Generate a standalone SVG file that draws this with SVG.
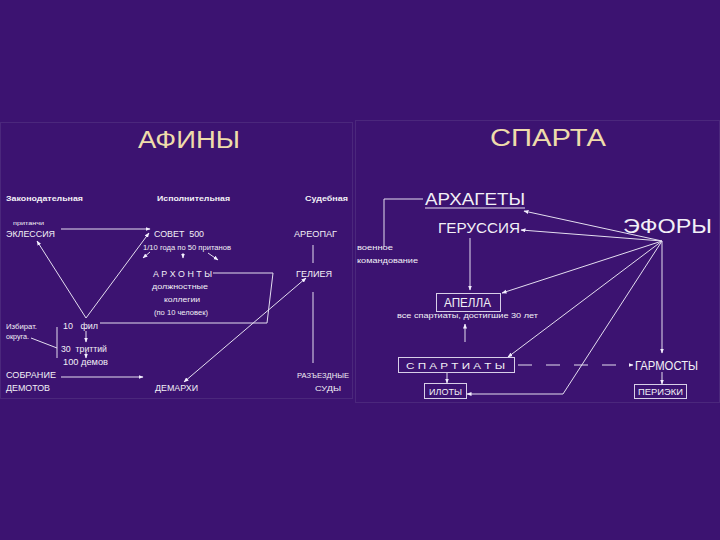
<svg xmlns="http://www.w3.org/2000/svg" width="720" height="540" viewBox="0 0 720 540">
<defs>
<marker id="ah" viewBox="0 0 10 10" refX="9" refY="5" markerWidth="5" markerHeight="5" orient="auto-start-reverse" markerUnits="userSpaceOnUse">
<path d="M0,1 L10,5 L0,9 Z" fill="#f4f0ff"/>
</marker>
</defs>
<style>
.t{font-family:"Liberation Sans",Arial,sans-serif;fill:#f2f0f6}
.b{font-weight:bold}
.title{font-family:"Liberation Sans",Arial,sans-serif;fill:#efdcab;font-size:23px}
.ln{stroke:#e4def0;stroke-width:1;fill:none}
.ar{stroke:#e4def0;stroke-width:1;fill:none;marker-end:url(#ah)}
.box{stroke:#d8cfe8;stroke-width:1;fill:none}
.panel{stroke:#5a3c88;stroke-width:1;fill:none;opacity:0.5}
</style>
<rect x="0" y="0" width="720" height="540" fill="#3c1371"/>
<rect class="panel" x="0.5" y="122.5" width="352" height="276"/>
<rect class="panel" x="355.5" y="120.5" width="364" height="282"/>

<text class="title" x="138" y="148" textLength="102" lengthAdjust="spacingAndGlyphs">АФИНЫ</text>
<text class="title" x="490" y="146" textLength="116" lengthAdjust="spacingAndGlyphs">СПАРТА</text>

<g id="connectors">
<line class="ar" x1="61" y1="229" x2="150" y2="229"/>
<line class="ar" x1="86" y1="318" x2="37" y2="241"/>
<line class="ar" x1="86" y1="318" x2="149" y2="233"/>
<line class="ar" x1="86" y1="331" x2="86" y2="342"/>
<line class="ar" x1="86" y1="352" x2="86" y2="358"/>
<polyline class="ln" points="31,338 57,348"/>
<line class="ln" x1="57" y1="327" x2="57" y2="358"/>
<polyline class="ln" points="100,323 267,323 273,273 213,273"/>
<line class="ar" x1="245" y1="330" x2="306" y2="278"/>
<line class="ar" x1="245" y1="330" x2="184" y2="382"/>
<line class="ar" x1="61" y1="377" x2="143" y2="377"/>
<line class="ln" x1="313" y1="245" x2="313" y2="263"/>
<line class="ln" x1="313" y1="292" x2="313" y2="363"/>
<line class="ar" x1="150" y1="252" x2="143" y2="258"/>
<line class="ar" x1="183" y1="253" x2="183" y2="258"/>
<line class="ar" x1="208" y1="253" x2="218" y2="260"/>

<line class="ar" x1="662" y1="241" x2="524" y2="211"/>
<line class="ar" x1="662" y1="241" x2="521" y2="230"/>
<line class="ar" x1="662" y1="241" x2="502" y2="293"/>
<line class="ar" x1="662" y1="241" x2="508" y2="357"/>
<polyline class="ar" points="662,241 563,394 467,394"/>
<line class="ar" x1="662" y1="241" x2="662" y2="353"/>
<line class="ar" x1="662" y1="372" x2="662" y2="384"/>
<polyline class="ln" points="423,199 384,199 384,247"/>
<line class="ar" x1="470" y1="238" x2="470" y2="290"/>
<line class="ar" x1="465" y1="342" x2="465" y2="324"/>
<line class="ar" x1="447" y1="372" x2="447" y2="383"/>
<line class="ar" x1="518" y1="365" x2="633" y2="365" stroke-dasharray="14 14"/>
<line class="ln" x1="425" y1="208" x2="525" y2="208"/>
</g>

<g id="legis-head"><text class="t b" x="6" y="201" font-size="8" textLength="77" lengthAdjust="spacingAndGlyphs">Законодательная</text></g>
<g id="exec-head"><text class="t b" x="157" y="201" font-size="8" textLength="73" lengthAdjust="spacingAndGlyphs">Исполнительная</text></g>
<g id="jud-head"><text class="t b" x="305" y="201" font-size="8" textLength="43" lengthAdjust="spacingAndGlyphs">Судебная</text></g>
<g id="eklessia">
<text class="t" x="13" y="225" font-size="6" textLength="31" lengthAdjust="spacingAndGlyphs">пританчи</text>
<text class="t" x="6" y="236.5" font-size="9" textLength="49" lengthAdjust="spacingAndGlyphs">ЭКЛЕССИЯ</text>
</g>
<g id="sovet">
<text class="t" x="154" y="236.5" font-size="9" textLength="50" lengthAdjust="spacingAndGlyphs" xml:space="preserve">СОВЕТ  500</text>
<text class="t" x="143" y="249.5" font-size="7" textLength="88" lengthAdjust="spacingAndGlyphs">1/10 года по 50 пританов</text>
</g>
<g id="areopag"><text class="t" x="294" y="236.5" font-size="9" textLength="43" lengthAdjust="spacingAndGlyphs">АРЕОПАГ</text></g>
<g id="arhonty">
<text class="t" x="153" y="276.5" font-size="9" textLength="59" lengthAdjust="spacingAndGlyphs">А Р Х О Н Т Ы</text>
<text class="t" x="152" y="289" font-size="7" textLength="56" lengthAdjust="spacingAndGlyphs">должностные</text>
<text class="t" x="164" y="302" font-size="7" textLength="36" lengthAdjust="spacingAndGlyphs">коллегии</text>
<text class="t" x="154" y="315" font-size="7" textLength="54" lengthAdjust="spacingAndGlyphs">(по 10 человек)</text>
</g>
<g id="geliea"><text class="t" x="296" y="276.5" font-size="9" textLength="36" lengthAdjust="spacingAndGlyphs">ГЕЛИЕЯ</text></g>
<g id="okruga">
<text class="t" x="6" y="328.5" font-size="6.5" textLength="31" lengthAdjust="spacingAndGlyphs">Избират.</text>
<text class="t" x="6" y="338.5" font-size="6.5" textLength="23" lengthAdjust="spacingAndGlyphs">округа.</text>
</g>
<g id="fil"><text class="t" x="63" y="329" font-size="9.5" xml:space="preserve" textLength="35" lengthAdjust="spacingAndGlyphs">10   фил</text></g>
<g id="trittii"><text class="t" x="61" y="352" font-size="9.5" xml:space="preserve" textLength="46" lengthAdjust="spacingAndGlyphs">30  триттий</text></g>
<g id="demy"><text class="t" x="63" y="365" font-size="9.5" textLength="45" lengthAdjust="spacingAndGlyphs">100 демов</text></g>
<g id="sobranie">
<text class="t" x="6" y="378" font-size="9" textLength="50" lengthAdjust="spacingAndGlyphs">СОБРАНИЕ</text>
<text class="t" x="6" y="390.5" font-size="9" textLength="44" lengthAdjust="spacingAndGlyphs">ДЕМОТОВ</text>
</g>
<g id="demarhi"><text class="t" x="155" y="390.5" font-size="9" textLength="43" lengthAdjust="spacingAndGlyphs">ДЕМАРХИ</text></g>
<g id="sudy">
<text class="t" x="297" y="378" font-size="8" textLength="52" lengthAdjust="spacingAndGlyphs">РАЗЪЕЗДНЫЕ</text>
<text class="t" x="315" y="390.5" font-size="8" textLength="26" lengthAdjust="spacingAndGlyphs">СУДЫ</text>
</g>

<g id="arhagety"><text class="t" x="425" y="205" font-size="16" textLength="100" lengthAdjust="spacingAndGlyphs">АРХАГЕТЫ</text></g>
<g id="voennoe">
<text class="t" x="357" y="249.5" font-size="7.5" textLength="36" lengthAdjust="spacingAndGlyphs">военное</text>
<text class="t" x="357" y="262.5" font-size="7.5" textLength="61" lengthAdjust="spacingAndGlyphs">командование</text>
</g>
<g id="gerussia"><text class="t" x="438" y="233" font-size="15" textLength="82" lengthAdjust="spacingAndGlyphs">ГЕРУССИЯ</text></g>
<g id="efory"><text class="t" x="623" y="233" font-size="21" textLength="89" lengthAdjust="spacingAndGlyphs">ЭФОРЫ</text></g>
<g id="apella">
<rect class="box" x="436.5" y="293.5" width="64" height="18"/>
<text class="t" x="444" y="307" font-size="12" textLength="47" lengthAdjust="spacingAndGlyphs">АПЕЛЛА</text>
<text class="t" x="397" y="317.5" font-size="8" textLength="141" lengthAdjust="spacingAndGlyphs">все спартиаты, достигшие 30 лет</text>
</g>
<g id="spartiaty">
<rect class="box" x="398.5" y="357.5" width="116" height="15"/>
<text class="t" x="406" y="369" font-size="9" textLength="99" lengthAdjust="spacingAndGlyphs">С П А Р Т И А Т Ы</text>
</g>
<g id="iloty">
<rect class="box" x="424.5" y="383.5" width="42" height="15"/>
<text class="t" x="429" y="394.5" font-size="8.5" textLength="33" lengthAdjust="spacingAndGlyphs">ИЛОТЫ</text>
</g>
<g id="garmosty"><text class="t" x="635" y="370" font-size="12" textLength="63" lengthAdjust="spacingAndGlyphs">ГАРМОСТЫ</text></g>
<g id="perieki">
<rect class="box" x="634.5" y="384.5" width="52" height="14"/>
<text class="t" x="638" y="395" font-size="8.5" textLength="45" lengthAdjust="spacingAndGlyphs">ПЕРИЭКИ</text>
</g>
</svg>
